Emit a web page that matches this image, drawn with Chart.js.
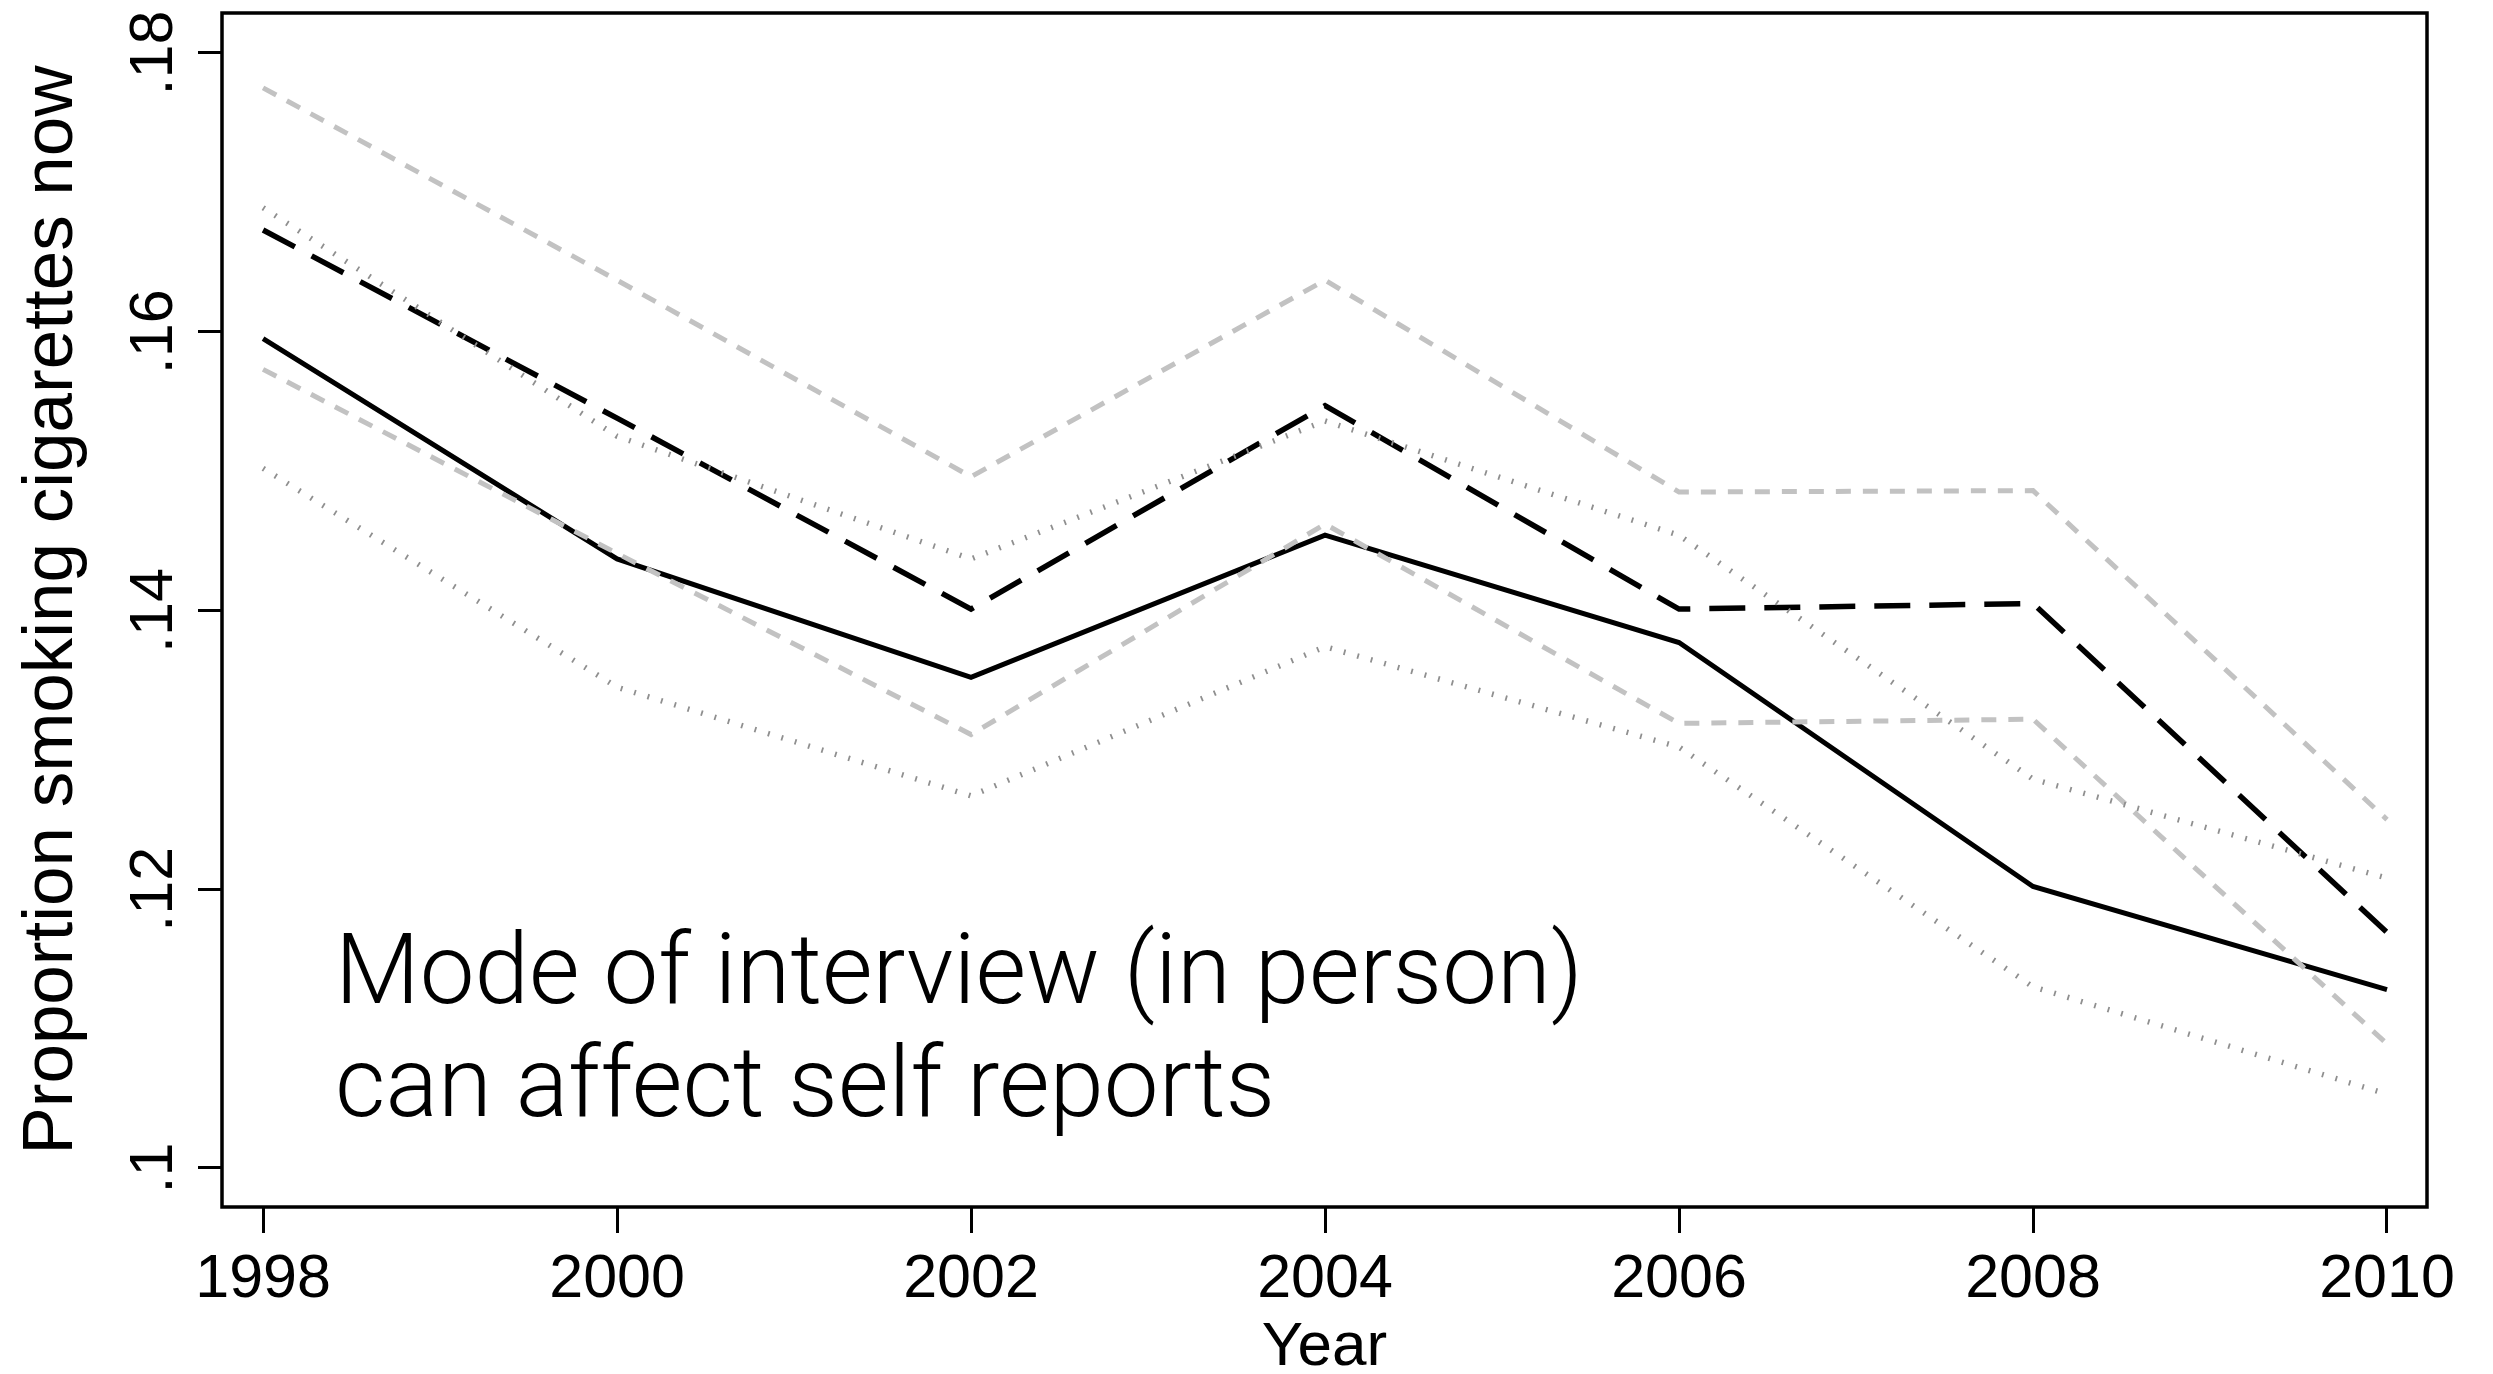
<!DOCTYPE html>
<html>
<head>
<meta charset="utf-8">
<script src="https://cdn.jsdelivr.net/npm/chart.js@4"></script>
<style>
  html, body { margin: 0; padding: 0; background: #fff; }
  #wrap { width: 2493px; height: 1374px; position: relative; }
</style>
</head>
<body>
<div id="wrap"><canvas id="c"></canvas></div>
<script>
// ---- data ----
const years = [1998, 2000, 2002, 2004, 2006, 2008, 2010];
const smokingSolid   = [0.1595, 0.1437, 0.1352, 0.1454, 0.1377, 0.1202, 0.1128];
const smokingDashed  = [0.1673, 0.1538, 0.1401, 0.1547, 0.1401, 0.1405, 0.1169];
const dashedCIUpper  = [0.1775, 0.1637, 0.1496, 0.1637, 0.1485, 0.1486, 0.1250];
const dashedCILower  = [0.1573, 0.1441, 0.1311, 0.1462, 0.1319, 0.1322, 0.1089];
const solidCIUpper   = [0.1689, 0.1525, 0.1437, 0.1536, 0.1454, 0.1279, 0.1208];
const solidCILower   = [0.1502, 0.1345, 0.1267, 0.1374, 0.1302, 0.1130, 0.1053];
const xTickValues = [1998, 2000, 2002, 2004, 2006, 2008, 2010];
const yTickValues = [0.10, 0.12, 0.14, 0.16, 0.18];
const yTickLabels = ['.1', '.12', '.14', '.16', '.18'];
const xTitle = 'Year';
const yTitle = 'Proportion smoking cigarettes now';
const noteLines = ['Mode of interview (in person)', 'can affect self reports'];

const pts = arr => years.map((y, i) => ({ x: y, y: arr[i] }));

const TICK_FONT = '61px "Liberation Sans", Arial, sans-serif';
const YTITLE_FONT = '71px "Liberation Sans", Arial, sans-serif';
const XTITLE_FONT = '62px "Liberation Sans", Arial, sans-serif';

const framePlugin = {
  id: 'frame',
  afterDatasetsDraw(chart) {
    const { ctx, chartArea: a } = chart;
    ctx.save();
    ctx.strokeStyle = '#000';
    ctx.lineWidth = 3.5;
    ctx.strokeRect(a.left, a.top, a.right - a.left, a.bottom - a.top);
    ctx.restore();
  }
};

const textPlugin = {
  id: 'texts',
  afterDraw(chart) {
    const { ctx, chartArea: a } = chart;
    const xs = chart.scales.x, ys = chart.scales.y;
    ctx.save();
    ctx.fillStyle = '#000';
    // x tick labels
    ctx.font = TICK_FONT;
    ctx.textAlign = 'center';
    ctx.textBaseline = 'alphabetic';
    xs.ticks.forEach(t => {
      ctx.fillText(String(t.value), xs.getPixelForValue(t.value), a.bottom + 90);
    });
    // y tick labels (rotated)
    yTickValues.forEach((v, i) => {
      ctx.save();
      ctx.translate(a.left - 50, ys.getPixelForValue(v));
      ctx.rotate(-Math.PI / 2);
      ctx.textAlign = 'center';
      ctx.fillText(yTickLabels[i], 0, 0);
      ctx.restore();
    });
    // y title
    ctx.save();
    ctx.font = YTITLE_FONT;
    ctx.translate(72, (a.top + a.bottom) / 2);
    ctx.rotate(-Math.PI / 2);
    ctx.textAlign = 'center';
    ctx.fillText(yTitle, 0, 0);
    ctx.restore();
    // x title
    ctx.font = XTITLE_FONT;
    ctx.textAlign = 'center';
    ctx.fillText(xTitle, (a.left + a.right) / 2, a.bottom + 158);
    // note
    ctx.font = '300 97px Roboto, "Liberation Sans", sans-serif';
    const w = ctx.measureText(noteLines[0]).width;
    const size = 97 * 1248 / w;
    ctx.font = '300 ' + size.toFixed(1) + 'px Roboto, "Liberation Sans", sans-serif';
    ctx.textAlign = 'left';
    ctx.fillText(noteLines[0], a.left + 113, a.bottom - 204);
    ctx.fillText(noteLines[1], a.left + 113, a.bottom - 91);
    ctx.restore();
  }
};

new Chart(document.getElementById('c'), {
  type: 'line',
  data: {
    datasets: [
      { label: 'solid', data: pts(smokingSolid), borderColor: '#000', borderWidth: 5, order: 2 },
      { label: 'dashed', data: pts(smokingDashed), borderColor: '#000', borderWidth: 5.5, borderDash: [36, 19], order: 2 },
      { label: 'dashed CI upper', data: pts(dashedCIUpper), borderColor: '#c2c2c2', borderWidth: 5, borderDash: [15, 12], order: 1 },
      { label: 'dashed CI lower', data: pts(dashedCILower), borderColor: '#c2c2c2', borderWidth: 5, borderDash: [15, 12], order: 1 },
      { label: 'solid CI upper', data: pts(solidCIUpper), borderColor: '#8f8f8f', borderWidth: 5.5, borderDash: [1.8, 12.2], order: 0 },
      { label: 'solid CI lower', data: pts(solidCILower), borderColor: '#8f8f8f', borderWidth: 5.5, borderDash: [1.8, 12.2], order: 0 }
    ]
  },
  options: {
    responsive: true,
    maintainAspectRatio: false,
    animation: false,
    devicePixelRatio: 1,
    layout: { padding: { top: 13, right: 66, left: 0, bottom: 0 } },
    elements: {
      point: { radius: 0, hoverRadius: 0 },
      line: { tension: 0, fill: false, borderJoinStyle: 'miter', borderCapStyle: 'butt' }
    },
    plugins: { legend: { display: false }, tooltip: { enabled: false }, title: { display: false } },
    scales: {
      x: {
        type: 'linear',
        min: 1997.768, max: 2010.226,
        afterBuildTicks: s => { s.ticks = xTickValues.map(v => ({ value: v })); },
        afterFit: s => { s.height = 167; },
        grid: { display: true, drawOnChartArea: false, drawTicks: true, tickLength: 26, color: '#000', lineWidth: 3 },
        border: { display: false },
        ticks: { display: false }
      },
      y: {
        type: 'linear',
        min: 0.0972, max: 0.18287,
        afterBuildTicks: s => { s.ticks = yTickValues.map(v => ({ value: v })); },
        afterFit: s => { s.width = 222; },
        grid: { display: true, drawOnChartArea: false, drawTicks: true, tickLength: 24, color: '#000', lineWidth: 3 },
        border: { display: false },
        ticks: { display: false }
      }
    }
  },
  plugins: [framePlugin, textPlugin]
});
</script>
</body>
</html>
